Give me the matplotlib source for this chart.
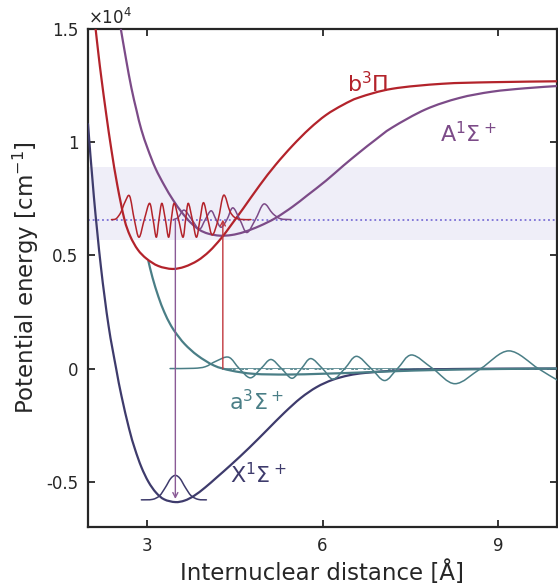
import numpy as np
import matplotlib
matplotlib.use("Agg")
import matplotlib.pyplot as plt
from matplotlib.path import Path
from matplotlib.patches import PathPatch

# potential curves, r in Angstrom, V in cm^-1
X_r = [2.00, 2.10, 2.22, 2.35, 2.48, 2.57, 2.70, 2.80, 2.91, 3.03, 3.16, 3.30, 3.49,
       3.65, 3.81, 4.00, 4.20, 4.44, 4.75, 5.06, 5.35, 5.63, 5.90, 6.17, 6.45, 6.74,
       7.31, 7.87, 8.60, 9.30, 10.0]
X_v = [10800, 7600, 4500, 1900, 0, -1200, -2650, -3550, -4350, -5000, -5480, -5780, -5900,
       -5830, -5620, -5250, -4800, -4250, -3500, -2700, -1950, -1300, -820, -500, -300, -190,
       -80, -35, -12, -4, 0]

a_r = [3.03, 3.10, 3.20, 3.30, 3.40, 3.49, 3.65, 3.87, 4.15, 4.44, 4.83, 5.40, 6.00,
       6.60, 7.20, 8.00, 9.00, 10.0]
a_v = [4750, 4020, 3180, 2500, 1970, 1600, 1080, 574, 132, -88, -234, -265, -230,
       -180, -120, -60, -20, 0]

b_r = [2.13, 2.18, 2.23, 2.31, 2.40, 2.50, 2.62, 2.72, 2.85, 3.00, 3.20, 3.44, 3.65,
       3.87, 4.07, 4.27, 4.45, 4.65, 4.93, 5.20, 5.49, 5.78, 6.06, 6.35, 6.63, 7.19,
       8.04, 8.89, 10.0]
b_v = [15000, 13850, 12800, 11250, 9650, 8100, 6600, 5850, 5250, 4850, 4530, 4400, 4500,
       4770, 5180, 5750, 6370, 7080, 8100, 9000, 9850, 10600, 11200, 11650, 11980, 12360,
       12580, 12650, 12690]

A_r = [2.56, 2.65, 2.74, 2.83, 2.91, 3.02, 3.15, 3.30, 3.45, 3.60, 3.75, 3.90, 4.05,
       4.25, 4.45, 4.66, 4.93, 5.20, 5.49, 5.74, 6.06, 6.35, 6.63, 6.90, 7.19, 7.76,
       8.33, 8.89, 9.45, 10.0]
A_v = [15000, 13650, 12400, 11380, 10550, 9700, 8850, 8100, 7450, 6900, 6450, 6130, 5960,
       5870, 5900, 6030, 6300, 6650, 7150, 7650, 8300, 8950, 9550, 10100, 10650, 11450,
       11950, 12230, 12380, 12480]

# vibrational wavefunctions drawn at their energies
b_wave_r = [2.40, 2.48, 2.56, 2.63, 2.71, 2.79, 2.87, 2.96, 3.05, 3.11, 3.165, 3.21, 3.26,
            3.32, 3.375, 3.42, 3.47, 3.545, 3.62, 3.665, 3.71, 3.78, 3.85, 3.91, 3.97,
            4.045, 4.12, 4.22, 4.315, 4.42, 4.50, 4.60, 4.78]
b_wave_v = [6580, 6620, 6900, 7350, 7620, 6580, 5800, 6580, 7300, 6580, 5800, 6580, 7300,
            6580, 5800, 6580, 7300, 6580, 5800, 6580, 7300, 6580, 5800, 6580, 7330,
            6580, 5900, 6580, 7660, 6950, 6680, 6590, 6580]

A_wave_r = [3.46, 3.54, 3.64, 3.77, 3.90, 4.00, 4.10, 4.185, 4.27, 4.37, 4.47, 4.59, 4.71,
            4.855, 5.00, 5.15, 5.28, 5.46]
A_wave_v = [6580, 6680, 7000, 6580, 6160, 6580, 6970, 6580, 6240, 6580, 7100, 6580, 6010,
            6580, 7270, 6850, 6620, 6580]

a_wave_r = [3.40, 3.80, 4.00, 4.18, 4.40, 4.58, 4.77, 4.95, 5.12, 5.30, 5.48, 5.64, 5.80,
            6.00, 6.18, 6.38, 6.58, 6.83, 7.06, 7.28, 7.52, 7.88, 8.26, 8.70, 9.18, 9.68,
            10.0, 10.15]
a_wave_v = [0, 10, 80, 320, 500, 0, -410, 0, 400, 0, -430, 0, 440,
            0, -470, 0, 540, 0, -530, 0, 600, 0, -670, 0, 780, 0,
            -500, -650]

X_wave_r = [2.91, 3.10, 3.22, 3.32, 3.41, 3.49, 3.57, 3.66, 3.76, 3.88, 4.02]
X_wave_v = [-5800, -5780, -5620, -5250, -4860, -4720, -4860, -5250, -5620, -5780, -5800]

level_b = 6580
band_lo, band_hi = 5700, 8900
arrow_down_r, arrow_down_top, arrow_down_bot = 3.49, 6580, -5760
arrow_up_r, arrow_up_bot, arrow_up_top = 4.30, 0, 6580

red = "#b3232b"
purple = "#7c4b88"
teal = "#4a7e86"
navy = "#3e3b6c"
ink = "#262626"


def smooth_line(ax, r, v, color, lw, zorder=3):
    # Catmull-Rom curve through the points, drawn as a cubic bezier path
    pts = np.column_stack([r, v]).astype(float)
    n = len(pts)
    verts = [pts[0]]
    codes = [Path.MOVETO]
    for i in range(n - 1):
        p0 = pts[max(i - 1, 0)]
        p1 = pts[i]
        p2 = pts[i + 1]
        p3 = pts[min(i + 2, n - 1)]
        verts += [p1 + (p2 - p0) / 6, p2 - (p3 - p1) / 6, p2]
        codes += [Path.CURVE4] * 3
    ax.add_patch(PathPatch(Path(verts, codes), fill=False, edgecolor=color, lw=lw,
                           capstyle="round", joinstyle="round", zorder=zorder))


fig = plt.figure(figsize=(5.58, 5.85), dpi=100)
ax = fig.add_axes([88 / 558, 1 - 527 / 585, 469 / 558, 498 / 585])

ax.axhspan(band_lo, band_hi, color="#efeef8", lw=0, zorder=0)
ax.axhline(level_b, color="#7b70d6", lw=1.3, ls=(0, (1, 1.6)), zorder=1)

# scattering threshold of the a state
ax.plot([arrow_up_r, 10.0], [0, 0], color=teal, lw=1.2, zorder=1)
ax.plot([arrow_up_r, 10.0], [0, 0], color="white", lw=0.8, ls=(0, (5, 2.5, 1, 2.5)), zorder=1)

smooth_line(ax, X_r, X_v, navy, 1.6)
smooth_line(ax, a_r, a_v, teal, 1.6)
smooth_line(ax, A_r, A_v, purple, 1.6)
smooth_line(ax, b_r, b_v, red, 1.6)

smooth_line(ax, X_wave_r, X_wave_v, navy, 1.1, zorder=4)
smooth_line(ax, a_wave_r, a_wave_v, teal, 1.1, zorder=4)
smooth_line(ax, A_wave_r, A_wave_v, purple, 1.1, zorder=4)
smooth_line(ax, b_wave_r, b_wave_v, red, 1.1, zorder=4)

ax.annotate("", xy=(arrow_down_r, arrow_down_bot), xytext=(arrow_down_r, arrow_down_top),
            arrowprops=dict(arrowstyle="->,head_length=0.35,head_width=0.18",
                            color="#8a5a96", lw=1.0, shrinkA=0, shrinkB=0), zorder=5)
ax.annotate("", xy=(arrow_up_r, arrow_up_top), xytext=(arrow_up_r, arrow_up_bot),
            arrowprops=dict(arrowstyle="->,head_length=0.35,head_width=0.18",
                            color="#c0363d", lw=1.0, shrinkA=0, shrinkB=0), zorder=5)

lab = dict(fontsize=16, va="baseline", ha="left")
ax.text(6.42, 12200, r"b$^3$Π", color=red, **lab)
ax.text(8.00, 10000, r"A$^1$Σ$^+$", color=purple, **lab)
ax.text(4.40, -1850, r"a$^3$Σ$^+$", color=teal, **lab)
ax.text(4.42, -5050, r"X$^1$Σ$^+$", color=navy, **lab)

ax.set_xlim(2, 10)
ax.set_ylim(-7000, 15000)
ax.set_xticks([3, 6, 9])
ax.set_yticks([-5000, 0, 5000, 10000, 15000])
ax.set_yticklabels(["-0.5", "0", "0.5", "1", "1.5"])
ax.tick_params(direction="in", top=True, right=True, length=5, width=1.3,
               labelsize=12, colors=ink, pad=7)
for s in ax.spines.values():
    s.set_linewidth(1.6)
    s.set_color(ink)

ax.text(0, 1.003, r"$\times$10$^4$", transform=ax.transAxes, fontsize=12,
        color=ink, ha="left", va="bottom")
ax.set_xlabel("Internuclear distance [Å]", fontsize=16.5, color=ink, labelpad=4)
ax.set_ylabel(r"Potential energy [cm$^{-1}$]", fontsize=16.5, color=ink, labelpad=4)

fig.savefig("out.png", dpi=100)
